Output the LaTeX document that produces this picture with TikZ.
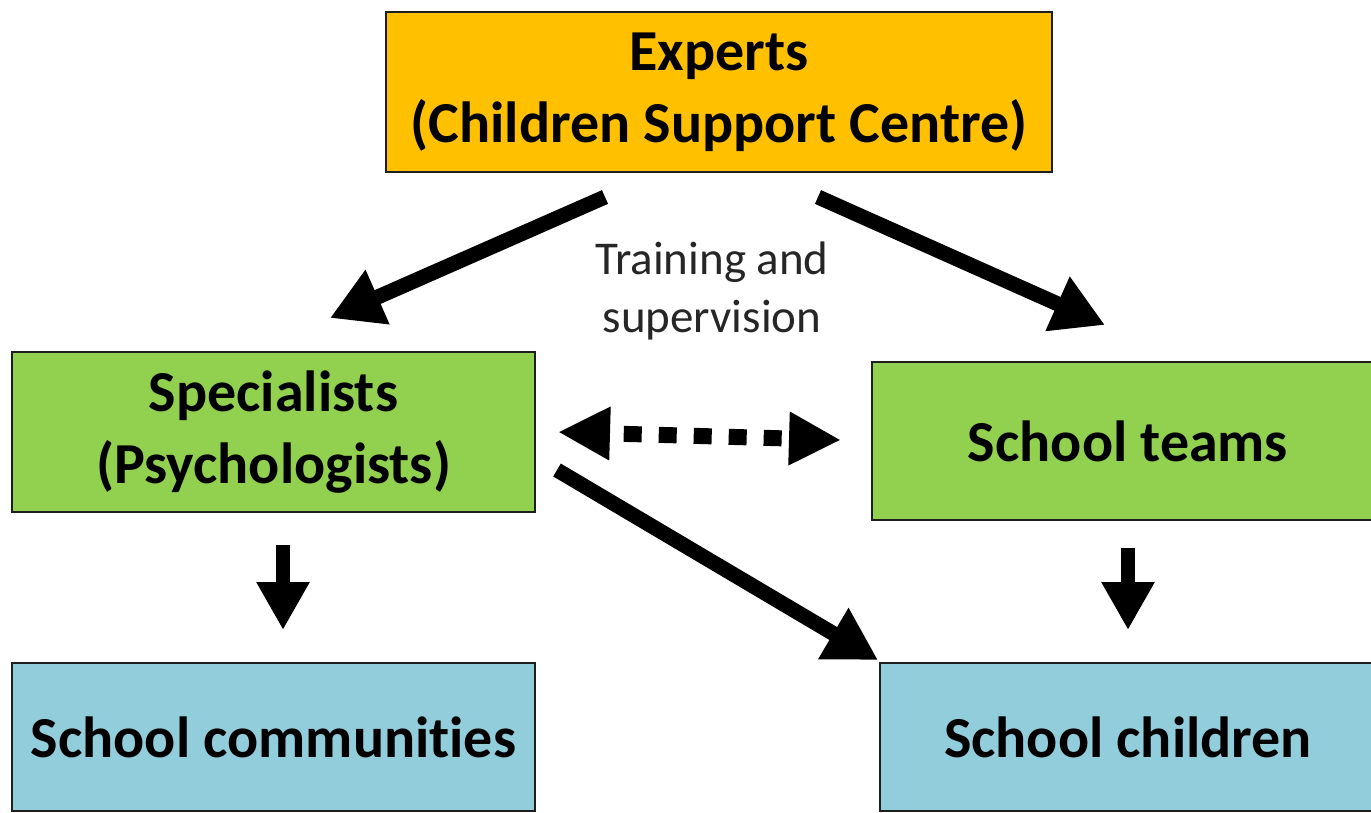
\documentclass[tikz,border=0pt]{standalone}
\usepackage{fontspec}
\setmainfont{Carlito}[Ligatures=NoCommon]
\usetikzlibrary{arrows.meta}
\definecolor{expertorange}{HTML}{FFC000}
\definecolor{boxgreen}{HTML}{92D050}
\definecolor{boxblue}{HTML}{92CDDC}
\definecolor{edge}{HTML}{1E1E1E}
\definecolor{lbltext}{HTML}{262626}
\tikzset{
  px/.style={x=1pt,y=-1pt},
  box/.style={draw=edge, line width=2pt, rectangle, align=center, inner sep=0pt,
    font=\fontsize{58}{72}\selectfont\bfseries},
  bigarrow/.style={line width=15pt, -{Triangle[length=52pt,width=56pt]}},
  downarrow/.style={line width=14pt, -{Triangle[length=48pt,width=50pt]}},
  dotarrow/.style={line width=16pt, dash pattern=on 18pt off 17pt, dash phase=18pt,
    {Triangle[length=52pt,width=50pt]}-{Triangle[length=52pt,width=50pt]}},
  lbl/.style={align=center, text=lbltext, font=\fontsize{47}{58}\selectfont}
}
\begin{document}
\begin{tikzpicture}[px]
\useasboundingbox (0,0) rectangle (1371,813);
\fill[white] (0,0) rectangle (1371,813);
\clip (0,0) rectangle (1371,813);
% boxes
\node[box, fill=expertorange, minimum width=666pt, minimum height=160pt] (experts) at (719,92) {Experts\\(Children Support Centre)};
\node[box, fill=boxgreen, minimum width=523pt, minimum height=160pt] (spec) at (273.5,432) {Specialists\\(Psychologists)};
\node[box, fill=boxgreen, minimum width=512pt, minimum height=158pt] (teams) at (1128,441) {School teams};
\node[box, fill=boxblue, minimum width=523pt, minimum height=148pt] (comm) at (273.5,737) {School communities};
\node[box, fill=boxblue, minimum width=496pt, minimum height=148pt] (kids) at (1128,737) {School children};
% label
\node[lbl] (train) at (712,291) {Training and\\supervision};
% connector end points
\coordinate (e1) at (605,197);
\coordinate (s1) at (330,318);
\coordinate (e2) at (818,197);
\coordinate (t1) at (1105,325);
\coordinate (s2) at (557,470);
\coordinate (k1) at (878,660);
\coordinate (s3) at (283,545);
\coordinate (c1) at (283,630);
\coordinate (t2) at (1128,548);
\coordinate (k2) at (1128,630);
\coordinate (s4) at (558,432);
\coordinate (t3) at (841,440);
% arrows
\draw[bigarrow] (e1) -- (s1);
\draw[bigarrow] (e2) -- (t1);
\draw[bigarrow] (s2) -- (k1);
\draw[downarrow] (s3) -- (c1);
\draw[downarrow] (t2) -- (k2);
\draw[dotarrow] (s4) -- (t3);
\end{tikzpicture}
\end{document}
